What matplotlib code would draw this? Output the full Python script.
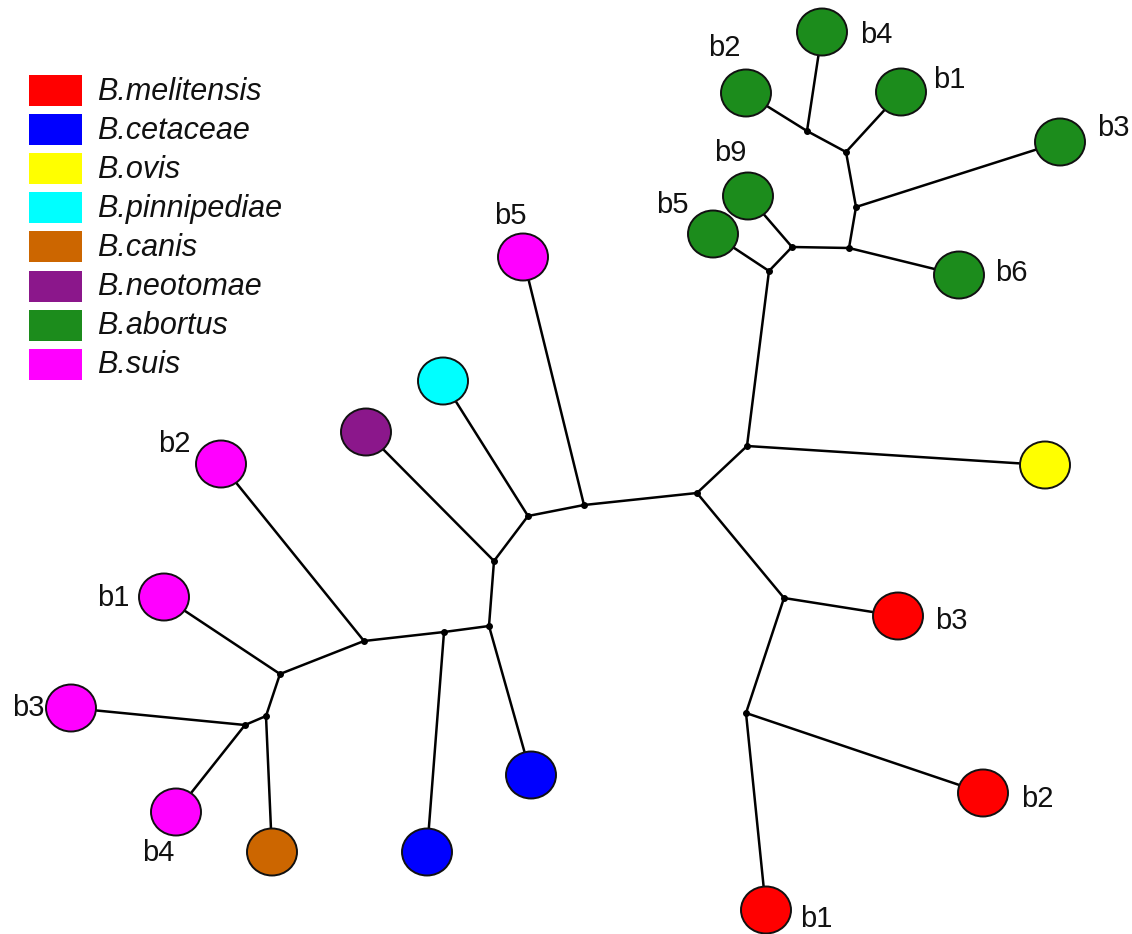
import matplotlib.pyplot as plt
from matplotlib.patches import Ellipse, Rectangle

plt.rcParams['font.family'] = ['Liberation Sans', 'DejaVu Sans']

# species and their colours
species = ['B.melitensis', 'B.cetaceae', 'B.ovis', 'B.pinnipediae',
           'B.canis', 'B.neotomae', 'B.abortus', 'B.suis']
colors = ['#ff0000', '#0000ff', '#ffff00', '#00ffff',
          '#cc6600', '#8b178b', '#1c8c1c', '#ff00ff']

# internal (branching) nodes of the tree
inner_names = ['A', 'B', 'C', 'D', 'E', 'F', 'G', 'H', 'I', 'J',
               'K', 'L', 'M', 'N1', 'N2', 'N3', 'N4', 'N5', 'N6']
inner_x = [697, 584, 528, 494, 489, 444, 364, 280, 266, 245,
           747, 784, 746, 769, 792, 849, 856, 846, 807]
inner_y = [493, 505, 516, 561, 626, 632, 641, 674, 716, 725,
           446, 598, 713, 271, 247, 248, 207, 152, 131]

# leaves (strains)
leaf_names = ['ab4', 'ab2', 'ab1', 'ab3', 'ab9', 'ab5', 'ab6', 'ovis',
              'me3', 'me2', 'me1', 'ce1', 'ce2', 'canis',
              'su4', 'su3', 'su1', 'su2', 'neo', 'pin', 'su5']
leaf_x = [822, 746, 901, 1060, 748, 713, 959, 1045,
          898, 983, 766, 531, 427, 272,
          176, 71, 164, 221, 366, 443, 523]
leaf_y = [32, 93, 92, 142, 196, 234, 275, 465,
          616, 793, 910, 775, 852, 852,
          812, 708, 597, 464, 432, 381, 257]
leaf_species = [6, 6, 6, 6, 6, 6, 6, 2,
                0, 0, 0, 1, 1, 4,
                7, 7, 7, 7, 5, 3, 7]
leaf_labels = ['b4', 'b2', 'b1', 'b3', 'b9', 'b5', 'b6', '',
               'b3', 'b2', 'b1', '', '', '',
               'b4', 'b3', 'b1', 'b2', '', '', 'b5']
label_dx = [54, -22, 48, 53, -18, -41, 52, 0,
            53, 54, 50, 0, 0, 0,
            -18, -43, -51, -47, 0, 0, -13]
label_dy = [3, -45, -12, -14, -43, -29, -2, 0,
            5, 6, 9, 0, 0, 0,
            41, 0, 1, -20, 0, 0, -41]

edges = [('A', 'B'), ('A', 'K'), ('A', 'L'), ('K', 'ovis'), ('K', 'N1'),
         ('N1', 'ab5'), ('N1', 'N2'), ('N2', 'ab9'), ('N2', 'N3'),
         ('N3', 'ab6'), ('N3', 'N4'), ('N4', 'ab3'), ('N4', 'N5'),
         ('N5', 'ab1'), ('N5', 'N6'), ('N6', 'ab2'), ('N6', 'ab4'),
         ('L', 'me3'), ('L', 'M'), ('M', 'me2'), ('M', 'me1'),
         ('B', 'su5'), ('B', 'C'), ('C', 'pin'), ('C', 'D'),
         ('D', 'neo'), ('D', 'E'), ('E', 'ce1'), ('E', 'F'),
         ('F', 'ce2'), ('F', 'G'), ('G', 'su2'), ('G', 'H'),
         ('H', 'su1'), ('H', 'I'), ('I', 'canis'), ('I', 'J'),
         ('J', 'su3'), ('J', 'su4')]

pos = {n: (x, y) for n, x, y in zip(inner_names, inner_x, inner_y)}
pos.update({n: (x, y) for n, x, y in zip(leaf_names, leaf_x, leaf_y)})

fig = plt.figure(figsize=(11.32, 9.34), dpi=100)
ax = fig.add_axes([0, 0, 1, 1])
ax.set_xlim(0, 1132)
ax.set_ylim(934, 0)
ax.axis('off')

for a, b in edges:
    (x0, y0), (x1, y1) = pos[a], pos[b]
    ax.plot([x0, x1], [y0, y1], color='black', lw=1.8, zorder=1,
            solid_capstyle='round')

ax.scatter(inner_x, inner_y, s=16, color='black', zorder=2)

for x, y, sp, lab, dx, dy in zip(leaf_x, leaf_y, leaf_species,
                                 leaf_labels, label_dx, label_dy):
    ax.add_patch(Ellipse((x, y), 50, 47, facecolor=colors[sp],
                         edgecolor='#111111', lw=1.4, zorder=3))
    if lab:
        ax.text(x + dx, y + dy, lab, fontsize=21, ha='center',
                va='center', color='#111111')

# legend
for i, (name, c) in enumerate(zip(species, colors)):
    yc = 90.5 + i * 39.1
    ax.add_patch(Rectangle((29, yc - 15.5), 53, 31, facecolor=c,
                           edgecolor='none', zorder=3))
    ax.text(97, yc + 1, name, fontsize=22, style='italic',
            ha='left', va='center', color='#111111')

fig.savefig('out.png', dpi=100)
